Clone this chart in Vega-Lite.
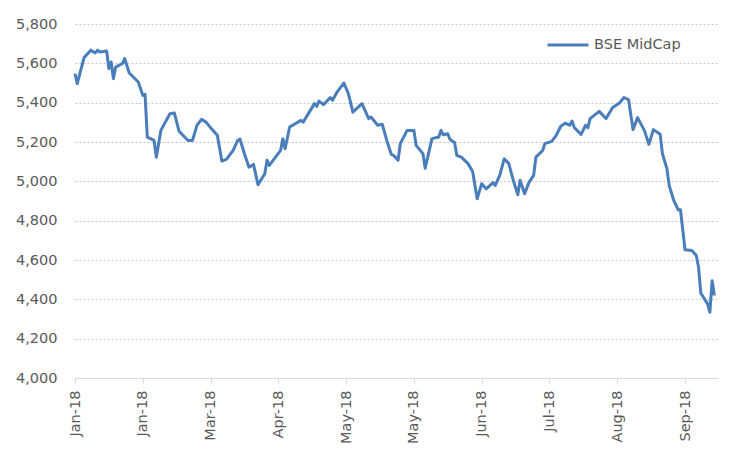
{
  "$schema": "https://vega.github.io/schema/vega-lite/v6.json",
  "autosize": {"type": "none"},
  "padding": {"left": 75, "top": 24, "right": 34, "bottom": 74},
  "width": 643,
  "height": 354,
  "background": "white",
  "config": {
    "view": {"stroke": null},
    "font": "DejaVu Sans"
  },
  "data": {
    "values": [
      {"date": "2018-01-01", "value": 5548, "series": "BSE MidCap"},
      {"date": "2018-01-02", "value": 5497, "series": "BSE MidCap"},
      {"date": "2018-01-05", "value": 5629, "series": "BSE MidCap"},
      {"date": "2018-01-08", "value": 5667, "series": "BSE MidCap"},
      {"date": "2018-01-10", "value": 5653, "series": "BSE MidCap"},
      {"date": "2018-01-11", "value": 5667, "series": "BSE MidCap"},
      {"date": "2018-01-12", "value": 5658, "series": "BSE MidCap"},
      {"date": "2018-01-15", "value": 5663, "series": "BSE MidCap"},
      {"date": "2018-01-16", "value": 5573, "series": "BSE MidCap"},
      {"date": "2018-01-17", "value": 5607, "series": "BSE MidCap"},
      {"date": "2018-01-18", "value": 5522, "series": "BSE MidCap"},
      {"date": "2018-01-19", "value": 5581, "series": "BSE MidCap"},
      {"date": "2018-01-22", "value": 5599, "series": "BSE MidCap"},
      {"date": "2018-01-23", "value": 5624, "series": "BSE MidCap"},
      {"date": "2018-01-25", "value": 5551, "series": "BSE MidCap"},
      {"date": "2018-01-29", "value": 5505, "series": "BSE MidCap"},
      {"date": "2018-01-30", "value": 5472, "series": "BSE MidCap"},
      {"date": "2018-01-31", "value": 5437, "series": "BSE MidCap"},
      {"date": "2018-02-01", "value": 5443, "series": "BSE MidCap"},
      {"date": "2018-02-02", "value": 5225, "series": "BSE MidCap"},
      {"date": "2018-02-05", "value": 5208, "series": "BSE MidCap"},
      {"date": "2018-02-06", "value": 5123, "series": "BSE MidCap"},
      {"date": "2018-02-08", "value": 5259, "series": "BSE MidCap"},
      {"date": "2018-02-12", "value": 5344, "series": "BSE MidCap"},
      {"date": "2018-02-14", "value": 5347, "series": "BSE MidCap"},
      {"date": "2018-02-16", "value": 5256, "series": "BSE MidCap"},
      {"date": "2018-02-20", "value": 5208, "series": "BSE MidCap"},
      {"date": "2018-02-22", "value": 5208, "series": "BSE MidCap"},
      {"date": "2018-02-24", "value": 5285, "series": "BSE MidCap"},
      {"date": "2018-02-26", "value": 5315, "series": "BSE MidCap"},
      {"date": "2018-02-28", "value": 5301, "series": "BSE MidCap"},
      {"date": "2018-03-02", "value": 5273, "series": "BSE MidCap"},
      {"date": "2018-03-05", "value": 5234, "series": "BSE MidCap"},
      {"date": "2018-03-07", "value": 5103, "series": "BSE MidCap"},
      {"date": "2018-03-09", "value": 5112, "series": "BSE MidCap"},
      {"date": "2018-03-12", "value": 5157, "series": "BSE MidCap"},
      {"date": "2018-03-14", "value": 5208, "series": "BSE MidCap"},
      {"date": "2018-03-15", "value": 5215, "series": "BSE MidCap"},
      {"date": "2018-03-17", "value": 5140, "series": "BSE MidCap"},
      {"date": "2018-03-19", "value": 5072, "series": "BSE MidCap"},
      {"date": "2018-03-21", "value": 5086, "series": "BSE MidCap"},
      {"date": "2018-03-23", "value": 4983, "series": "BSE MidCap"},
      {"date": "2018-03-26", "value": 5039, "series": "BSE MidCap"},
      {"date": "2018-03-27", "value": 5107, "series": "BSE MidCap"},
      {"date": "2018-03-28", "value": 5081, "series": "BSE MidCap"},
      {"date": "2018-04-02", "value": 5157, "series": "BSE MidCap"},
      {"date": "2018-04-03", "value": 5217, "series": "BSE MidCap"},
      {"date": "2018-04-04", "value": 5166, "series": "BSE MidCap"},
      {"date": "2018-04-06", "value": 5276, "series": "BSE MidCap"},
      {"date": "2018-04-11", "value": 5310, "series": "BSE MidCap"},
      {"date": "2018-04-12", "value": 5301, "series": "BSE MidCap"},
      {"date": "2018-04-17", "value": 5395, "series": "BSE MidCap"},
      {"date": "2018-04-18", "value": 5381, "series": "BSE MidCap"},
      {"date": "2018-04-19", "value": 5408, "series": "BSE MidCap"},
      {"date": "2018-04-21", "value": 5390, "series": "BSE MidCap"},
      {"date": "2018-04-24", "value": 5426, "series": "BSE MidCap"},
      {"date": "2018-04-25", "value": 5412, "series": "BSE MidCap"},
      {"date": "2018-04-27", "value": 5454, "series": "BSE MidCap"},
      {"date": "2018-04-30", "value": 5500, "series": "BSE MidCap"},
      {"date": "2018-05-02", "value": 5446, "series": "BSE MidCap"},
      {"date": "2018-05-04", "value": 5352, "series": "BSE MidCap"},
      {"date": "2018-05-08", "value": 5395, "series": "BSE MidCap"},
      {"date": "2018-05-11", "value": 5319, "series": "BSE MidCap"},
      {"date": "2018-05-12", "value": 5327, "series": "BSE MidCap"},
      {"date": "2018-05-15", "value": 5285, "series": "BSE MidCap"},
      {"date": "2018-05-17", "value": 5290, "series": "BSE MidCap"},
      {"date": "2018-05-19", "value": 5208, "series": "BSE MidCap"},
      {"date": "2018-05-21", "value": 5137, "series": "BSE MidCap"},
      {"date": "2018-05-22", "value": 5132, "series": "BSE MidCap"},
      {"date": "2018-05-24", "value": 5108, "series": "BSE MidCap"},
      {"date": "2018-05-25", "value": 5192, "series": "BSE MidCap"},
      {"date": "2018-05-28", "value": 5259, "series": "BSE MidCap"},
      {"date": "2018-05-31", "value": 5259, "series": "BSE MidCap"},
      {"date": "2018-06-01", "value": 5183, "series": "BSE MidCap"},
      {"date": "2018-06-04", "value": 5141, "series": "BSE MidCap"},
      {"date": "2018-06-05", "value": 5067, "series": "BSE MidCap"},
      {"date": "2018-06-08", "value": 5217, "series": "BSE MidCap"},
      {"date": "2018-06-11", "value": 5225, "series": "BSE MidCap"},
      {"date": "2018-06-12", "value": 5259, "series": "BSE MidCap"},
      {"date": "2018-06-13", "value": 5237, "series": "BSE MidCap"},
      {"date": "2018-06-15", "value": 5242, "series": "BSE MidCap"},
      {"date": "2018-06-16", "value": 5213, "series": "BSE MidCap"},
      {"date": "2018-06-18", "value": 5197, "series": "BSE MidCap"},
      {"date": "2018-06-19", "value": 5132, "series": "BSE MidCap"},
      {"date": "2018-06-21", "value": 5123, "series": "BSE MidCap"},
      {"date": "2018-06-22", "value": 5112, "series": "BSE MidCap"},
      {"date": "2018-06-24", "value": 5090, "series": "BSE MidCap"},
      {"date": "2018-06-26", "value": 5050, "series": "BSE MidCap"},
      {"date": "2018-06-28", "value": 4911, "series": "BSE MidCap"},
      {"date": "2018-06-30", "value": 4988, "series": "BSE MidCap"},
      {"date": "2018-07-02", "value": 4962, "series": "BSE MidCap"},
      {"date": "2018-07-05", "value": 4993, "series": "BSE MidCap"},
      {"date": "2018-07-06", "value": 4979, "series": "BSE MidCap"},
      {"date": "2018-07-08", "value": 5030, "series": "BSE MidCap"},
      {"date": "2018-07-10", "value": 5115, "series": "BSE MidCap"},
      {"date": "2018-07-12", "value": 5090, "series": "BSE MidCap"},
      {"date": "2018-07-14", "value": 5005, "series": "BSE MidCap"},
      {"date": "2018-07-16", "value": 4932, "series": "BSE MidCap"},
      {"date": "2018-07-17", "value": 5005, "series": "BSE MidCap"},
      {"date": "2018-07-19", "value": 4937, "series": "BSE MidCap"},
      {"date": "2018-07-21", "value": 4996, "series": "BSE MidCap"},
      {"date": "2018-07-23", "value": 5030, "series": "BSE MidCap"},
      {"date": "2018-07-24", "value": 5123, "series": "BSE MidCap"},
      {"date": "2018-07-27", "value": 5157, "series": "BSE MidCap"},
      {"date": "2018-07-28", "value": 5192, "series": "BSE MidCap"},
      {"date": "2018-07-31", "value": 5203, "series": "BSE MidCap"},
      {"date": "2018-08-02", "value": 5234, "series": "BSE MidCap"},
      {"date": "2018-08-04", "value": 5280, "series": "BSE MidCap"},
      {"date": "2018-08-06", "value": 5296, "series": "BSE MidCap"},
      {"date": "2018-08-08", "value": 5285, "series": "BSE MidCap"},
      {"date": "2018-08-09", "value": 5307, "series": "BSE MidCap"},
      {"date": "2018-08-10", "value": 5273, "series": "BSE MidCap"},
      {"date": "2018-08-13", "value": 5239, "series": "BSE MidCap"},
      {"date": "2018-08-15", "value": 5285, "series": "BSE MidCap"},
      {"date": "2018-08-16", "value": 5273, "series": "BSE MidCap"},
      {"date": "2018-08-17", "value": 5319, "series": "BSE MidCap"},
      {"date": "2018-08-21", "value": 5356, "series": "BSE MidCap"},
      {"date": "2018-08-24", "value": 5319, "series": "BSE MidCap"},
      {"date": "2018-08-27", "value": 5375, "series": "BSE MidCap"},
      {"date": "2018-08-30", "value": 5398, "series": "BSE MidCap"},
      {"date": "2018-09-01", "value": 5426, "series": "BSE MidCap"},
      {"date": "2018-09-03", "value": 5416, "series": "BSE MidCap"},
      {"date": "2018-09-05", "value": 5263, "series": "BSE MidCap"},
      {"date": "2018-09-07", "value": 5324, "series": "BSE MidCap"},
      {"date": "2018-09-10", "value": 5259, "series": "BSE MidCap"},
      {"date": "2018-09-12", "value": 5188, "series": "BSE MidCap"},
      {"date": "2018-09-14", "value": 5263, "series": "BSE MidCap"},
      {"date": "2018-09-17", "value": 5239, "series": "BSE MidCap"},
      {"date": "2018-09-18", "value": 5141, "series": "BSE MidCap"},
      {"date": "2018-09-20", "value": 5064, "series": "BSE MidCap"},
      {"date": "2018-09-21", "value": 4979, "series": "BSE MidCap"},
      {"date": "2018-09-23", "value": 4903, "series": "BSE MidCap"},
      {"date": "2018-09-25", "value": 4855, "series": "BSE MidCap"},
      {"date": "2018-09-26", "value": 4855, "series": "BSE MidCap"},
      {"date": "2018-09-28", "value": 4652, "series": "BSE MidCap"},
      {"date": "2018-10-01", "value": 4648, "series": "BSE MidCap"},
      {"date": "2018-10-03", "value": 4623, "series": "BSE MidCap"},
      {"date": "2018-10-04", "value": 4563, "series": "BSE MidCap"},
      {"date": "2018-10-05", "value": 4431, "series": "BSE MidCap"},
      {"date": "2018-10-08", "value": 4377, "series": "BSE MidCap"},
      {"date": "2018-10-09", "value": 4334, "series": "BSE MidCap"},
      {"date": "2018-10-10", "value": 4495, "series": "BSE MidCap"},
      {"date": "2018-10-11", "value": 4419, "series": "BSE MidCap"}
    ]
  },
  "mark": {"type": "line", "strokeWidth": 3, "strokeJoin": "round"},
  "encoding": {
    "x": {
      "field": "date",
      "type": "temporal",
      "scale": {"type": "utc", "domain": [1514764800000, 1539354240000]},
      "axis": {
        "title": null,
        "values": [1514764800000, 1517356800000, 1519948800000, 1522540800000, 1525132800000, 1527724800000, 1530316800000, 1532908800000, 1535500800000, 1538092800000],
        "format": "%b-%y",
        "labelAngle": 270,
        "labelAlign": "right",
        "labelBaseline": "middle",
        "labelFont": "DejaVu Sans",
        "labelFontSize": 14.5,
        "labelColor": "#595959",
        "labelPadding": 7,
        "domainColor": "#d9d9d9",
        "domainWidth": 1,
        "tickColor": "#d9d9d9",
        "tickSize": 5,
        "grid": false,
        "labelOverlap": false,
        "labelFlush": false
      }
    },
    "y": {
      "field": "value",
      "type": "quantitative",
      "scale": {"domain": [4000, 5800], "nice": false, "zero": false},
      "axis": {
        "title": null,
        "values": [4000, 4200, 4400, 4600, 4800, 5000, 5200, 5400, 5600, 5800],
        "format": ",d",
        "labelFont": "DejaVu Sans",
        "labelFontSize": 14.5,
        "labelColor": "#595959",
        "labelPadding": 18,
        "domain": false,
        "ticks": false,
        "grid": true,
        "gridColor": "#c4c4c4",
        "gridDash": [2, 2],
        "gridWidth": 1
      }
    },
    "color": {
      "field": "series",
      "type": "nominal",
      "scale": {"range": ["#4a7ebb"]},
      "legend": {
        "title": null,
        "orient": "none",
        "legendX": 471,
        "legendY": -1,
        "symbolType": "stroke",
        "symbolSize": 1681,
        "symbolStrokeWidth": 3,
        "labelFont": "DejaVu Sans",
        "labelFontSize": 14.5,
        "labelColor": "#595959",
        "labelOffset": 4
      }
    }
  }
}
